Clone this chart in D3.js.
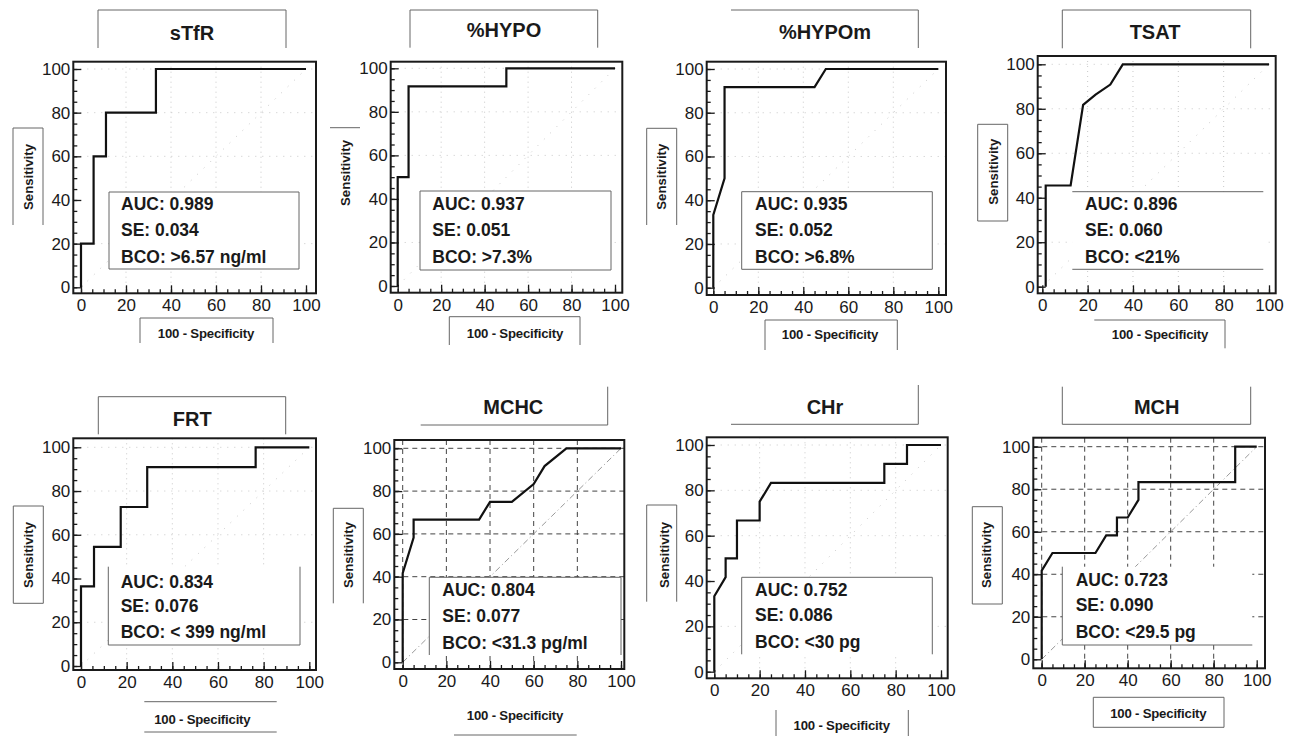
<!DOCTYPE html>
<html>
<head>
<meta charset="utf-8">
<script src="https://cdn.jsdelivr.net/npm/d3@7/dist/d3.min.js"></script>
<style>
  html, body { margin: 0; padding: 0; background: #fff; }
  svg { display: block; }
  text { font-family: "Liberation Sans", Arial, Helvetica, sans-serif; fill: #1a1a1a; }
</style>
</head>
<body>
<svg id="chart" width="1293" height="736"></svg>
<script>
// ---------------- DATA ----------------
const titles = ["sTfR", "%HYPO", "%HYPOm", "TSAT", "FRT", "MCHC", "CHr", "MCH"];
const aucValues = ["0.989", "0.937", "0.935", "0.896", "0.834", "0.804", "0.752", "0.723"];
const seValues = ["0.034", "0.051", "0.052", "0.060", "0.076", "0.077", "0.086", "0.090"];
const bcoLabels = [">6.57 ng/ml", ">7.3%", ">6.8%", "<21%", "< 399 ng/ml", "<31.3 pg/ml", "<30 pg", "<29.5 pg"];
const majorTicks = [0, 20, 40, 60, 80, 100];
const minorTicks = [0, 5, 10, 15, 20, 25, 30, 35, 40, 45, 50, 55, 60, 65, 70, 75, 80, 85, 90, 95, 100];
const xAxisLabel = "100 - Specificity";
const yAxisLabel = "Sensitivity";

// ROC curves: [100 - Specificity, Sensitivity]
const rocSTfR  = [[0,0],[0,20],[5.6,20],[5.6,60],[11.1,60],[11.1,80],[33.3,80],[33.3,100],[100,100]];
const rocHYPO  = [[0,0],[0,50],[5,50],[5,91.7],[50,91.7],[50,100],[100,100]];
const rocHYPOm = [[0,0],[0,33.3],[5,50],[5,91.7],[45,91.7],[50,100],[100,100]];
const rocTSAT  = [[1.5,0],[1.5,45.5],[12.5,45.5],[18,81.8],[23.5,86.4],[30,90.9],[35.5,100],[100,100]];
const rocFRT   = [[0,0],[0,36.4],[5.7,36.4],[5.7,54.5],[17.4,54.5],[17.4,72.7],[29,72.7],[29,90.9],[76.5,90.9],[76.5,100],[100,100]];
const rocMCHC  = [[0,0],[0,41.7],[5,58.3],[5,66.7],[35,66.7],[40,75],[50,75],[60,83.3],[65,91.7],[75,100],[100,100]];
const rocCHr   = [[0,0],[0,33.3],[5,41.7],[5,50],[10,50],[10,66.7],[20,66.7],[20,75],[25,83.3],[75,83.3],[75,91.7],[85,91.7],[85,100],[100,100]];
const rocMCH   = [[0,0],[0,41.7],[5,50],[25,50],[30,58.3],[35,58.3],[35,66.7],[40,66.7],[45,75],[45,83.3],[90,83.3],[90,100],[100,100]];
const rocCurves = [rocSTfR, rocHYPO, rocHYPOm, rocTSAT, rocFRT, rocMCHC, rocCHr, rocMCH];

// ---------------- LAYOUT (pixel geometry per panel) ----------------
const layouts = [
  { frame:[73.3,316,61.7,293.3], xr:[81,306], yr:[287.3,69],
    title:{box:[98,286,10,48],sides:"tlr",cx:192,cy:33},
    ylab:{box:[13,43,128,225],sides:"tlr",cx:28.5,cy:177},
    xlab:{box:[140,273,318,343],sides:"tlr",cx:206,cy:333},
    stats:{box:[109,299,192,269],sides:"tlbr",tx:121,ys:[204,230,257]}, grid:"dot" },
  { frame:[390.7,622.3,61.7,292.7], xr:[397.7,615], yr:[286,68.3],
    title:{box:[410,597.7,10,47.7],sides:"tlr",cx:504,cy:30},
    ylab:{box:[330,360,127.7,127.7],sides:"t",cx:345,cy:173},
    xlab:{box:[449.3,580,316.7,345],sides:"tlr",cx:515,cy:333},
    stats:{box:[420,611,191,270],sides:"tlbr",tx:432.3,ys:[204,230,257]}, grid:"dot" },
  { frame:[706.7,946,61.7,295], xr:[713.3,938.3], yr:[287.7,69],
    title:{box:[731,918.3,10,48],sides:"tr",cx:825,cy:31.7},
    ylab:{box:[646.7,676.7,128.3,225],sides:"tlr",cx:661.7,cy:176.7},
    xlab:{box:[765,897.3,320,350],sides:"tlr",cx:830,cy:334},
    stats:{box:[741.7,932.3,191.7,269.3],sides:"tlbr",tx:755,ys:[204,230,257]}, grid:"dot" },
  { frame:[1037.7,1275.7,56,293.3], xr:[1042.3,1269], yr:[286.7,64.3],
    title:{box:[1062.3,1250.7,10,48.3],sides:"tlr",cx:1155,cy:31.7},
    ylab:{box:[977.7,1007.7,124.3,221],sides:"tlbr",cx:993.3,cy:171.7},
    xlab:{box:[1094.3,1225,320,348.3],sides:"tr",cx:1160,cy:334.3},
    stats:{box:[1072.3,1263.3,191.7,269.3],sides:"tb",tx:1085,ys:[204,230,256.7]}, grid:"dot" },
  { frame:[73.3,316,438.3,670], xr:[81,309.3], yr:[666,447.3],
    title:{box:[98.3,285.7,396.7,434.3],sides:"tlr",cx:192.3,cy:418.3},
    ylab:{box:[13.3,43.3,506,603.3],sides:"tlbr",cx:28.3,cy:555},
    xlab:{box:[144.3,276.7,701.7,732],sides:"tb",cx:202.3,cy:719.3},
    stats:{box:[108.3,300,566.7,645],sides:"lbr",tx:120.7,ys:[581.7,606,631.7]}, grid:"dot" },
  { frame:[394.3,624.3,440,669], xr:[402.7,621], yr:[662.3,448.3],
    title:{box:[420.7,607.7,386.7,425],sides:"br",cx:513.3,cy:406.7},
    ylab:{box:[333.3,363.3,508.3,603.3],sides:"tlr",cx:348.3,cy:555},
    xlab:{box:[454,576.7,735,735],sides:"b",cx:515,cy:715},
    stats:{box:[429.3,621,577.3,655],sides:"tlr",tx:442.3,ys:[590,616,642.7]}, grid:"dash" },
  { frame:[706.7,947.7,437.3,678.3], xr:[714.3,941], yr:[671.7,445],
    title:{box:[731,918.3,385,424.3],sides:"br",cx:825,cy:406.7},
    ylab:{box:[646.7,676.7,505,601.7],sides:"tlr",cx:664,cy:555},
    xlab:{box:[776,908.3,710,736],sides:"lr",cx:841.7,cy:725},
    stats:{box:[741.7,932.3,577.3,654.3],sides:"tlr",tx:755,ys:[589.3,615,641.7]}, grid:"dot" },
  { frame:[1033.3,1265,437.7,668.3], xr:[1041.7,1256.7], yr:[659.3,446.7],
    title:{box:[1062.3,1250.7,386.7,424.3],sides:"lrb",cx:1156.7,cy:406.7},
    ylab:{box:[972.3,1002.3,506.7,604],sides:"tlbr",cx:986.7,cy:555},
    xlab:{box:[1093.3,1224,697.3,727.3],sides:"tlbr",cx:1158.3,cy:713.3},
    stats:{box:[1062.3,1252.3,566.7,645],sides:"lb",tx:1075.7,ys:[580,605,631.7]}, grid:"dash" }
];

// ---------------- DRAW ----------------
const svg = d3.select("#chart");

function drawBox(g, box, sides, color) {
  const [l, r, t, b] = box;
  const segs = { t:[l,t,r,t], b:[l,b,r,b], l:[l,t,l,b], r:[r,t,r,b] };
  for (const s of sides) {
    const [x1,y1,x2,y2] = segs[s];
    g.append("line").attr("x1",x1).attr("y1",y1).attr("x2",x2).attr("y2",y2)
      .attr("stroke", color || "#555").attr("stroke-width", 1);
  }
}

titles.forEach((title, i) => {
  const L = layouts[i];
  const g = svg.append("g");
  const [fl, fr, ft, fb] = L.frame;
  const x = d3.scaleLinear().domain([0, 100]).range(L.xr);
  const y = d3.scaleLinear().domain([0, 100]).range(L.yr);

  // grid
  const gridG = g.append("g");
  if (L.grid === "dash") {
    [0, 20, 40, 60, 80].forEach(v => gridG.append("line")
      .attr("x1", x(v)).attr("x2", x(v)).attr("y1", ft).attr("y2", fb)
      .attr("stroke", "#444").attr("stroke-width", 1).attr("stroke-dasharray", "5,4"));
    [20, 40, 60, 80, 100].forEach(v => gridG.append("line")
      .attr("x1", fl).attr("x2", fr).attr("y1", y(v)).attr("y2", y(v))
      .attr("stroke", "#444").attr("stroke-width", 1).attr("stroke-dasharray", "5,4"));
    gridG.append("line").attr("x1", x(0)).attr("y1", y(0)).attr("x2", x(100)).attr("y2", y(100))
      .attr("stroke", "#999").attr("stroke-width", 1).attr("stroke-dasharray", "6,3,1,3");
  } else {
    [20, 40, 60, 80].forEach(v => gridG.append("line")
      .attr("x1", x(v)).attr("x2", x(v)).attr("y1", ft).attr("y2", fb)
      .attr("stroke", "#c8c8c8").attr("stroke-width", 1).attr("stroke-dasharray", "1,4"));
    [20, 60, 80, 100].forEach(v => gridG.append("line")
      .attr("x1", fl).attr("x2", fr).attr("y1", y(v)).attr("y2", y(v))
      .attr("stroke", "#c8c8c8").attr("stroke-width", 1).attr("stroke-dasharray", "1,6"));
    gridG.append("line").attr("x1", x(0)).attr("y1", y(0)).attr("x2", x(100)).attr("y2", y(100))
      .attr("stroke", "#c8c8c8").attr("stroke-width", 1).attr("stroke-dasharray", "1,8");
  }

  // stats box (white-filled, under curve)
  const sb = L.stats.box;
  g.append("rect").attr("x", sb[0]).attr("y", sb[2]).attr("width", sb[1] - sb[0]).attr("height", sb[3] - sb[2])
    .attr("fill", "#fff");
  drawBox(g, sb, L.stats.sides, "#666");
  const statLines = ["AUC: " + aucValues[i], "SE: " + seValues[i], "BCO: " + bcoLabels[i]];
  statLines.forEach((s, k) => {
    g.append("text").attr("x", L.stats.tx).attr("y", L.stats.ys[k]).attr("dy", "0.36em")
      .attr("font-size", 17.5).attr("font-weight", "bold").attr("fill", "#111").text(s);
  });

  // frame
  g.append("rect").attr("x", fl).attr("y", ft).attr("width", fr - fl).attr("height", fb - ft)
    .attr("fill", "none").attr("stroke", "#1a1a1a").attr("stroke-width", 2);

  // axes (ticks pointing inward)
  const yMinor = g.append("g").attr("transform", `translate(${fl},0)`)
    .call(d3.axisLeft(y).tickValues(minorTicks).tickSize(-4).tickFormat(""));
  const yMajor = g.append("g").attr("transform", `translate(${fl},0)`)
    .call(d3.axisLeft(y).tickValues(majorTicks).tickSize(-8).tickPadding(3));
  const xMinor = g.append("g").attr("transform", `translate(0,${fb})`)
    .call(d3.axisBottom(x).tickValues(minorTicks).tickSize(-4).tickFormat(""));
  const xMajor = g.append("g").attr("transform", `translate(0,${fb})`)
    .call(d3.axisBottom(x).tickValues(majorTicks).tickSize(-8).tickPadding(6));
  [yMinor, yMajor, xMinor, xMajor].forEach(a => {
    a.select(".domain").remove();
    a.selectAll(".tick line").attr("stroke", "#1a1a1a").attr("stroke-width", 1.3);
    a.selectAll(".tick text").attr("font-size", 17)
      .attr("font-family", "'Liberation Sans', Arial, sans-serif").attr("fill", "#111");
  });

  // ROC curve
  g.append("path").datum(rocCurves[i])
    .attr("d", d3.line().x(d => x(d[0])).y(d => y(d[1])))
    .attr("fill", "none").attr("stroke", "#111").attr("stroke-width", 2.2)
    .attr("stroke-linejoin", "miter");

  // title
  drawBox(g, L.title.box, L.title.sides, "#666");
  g.append("text").attr("x", L.title.cx).attr("y", L.title.cy).attr("dy", "0.36em")
    .attr("text-anchor", "middle").attr("font-size", 20).attr("font-weight", "bold").attr("fill", "#111").text(title);

  // y label
  drawBox(g, L.ylab.box, L.ylab.sides, "#666");
  g.append("text").attr("transform", `translate(${L.ylab.cx},${L.ylab.cy}) rotate(-90)`)
    .attr("dy", "0.36em").attr("text-anchor", "middle")
    .attr("font-size", 13.2).attr("font-weight", "bold").attr("fill", "#111").text(yAxisLabel);

  // x label
  drawBox(g, L.xlab.box, L.xlab.sides, "#666");
  g.append("text").attr("x", L.xlab.cx).attr("y", L.xlab.cy).attr("dy", "0.36em")
    .attr("text-anchor", "middle").attr("font-size", 13.2).attr("font-weight", "bold")
    .attr("letter-spacing", "-0.2").attr("fill", "#111").text(xAxisLabel);
});
</script>
</body>
</html>
